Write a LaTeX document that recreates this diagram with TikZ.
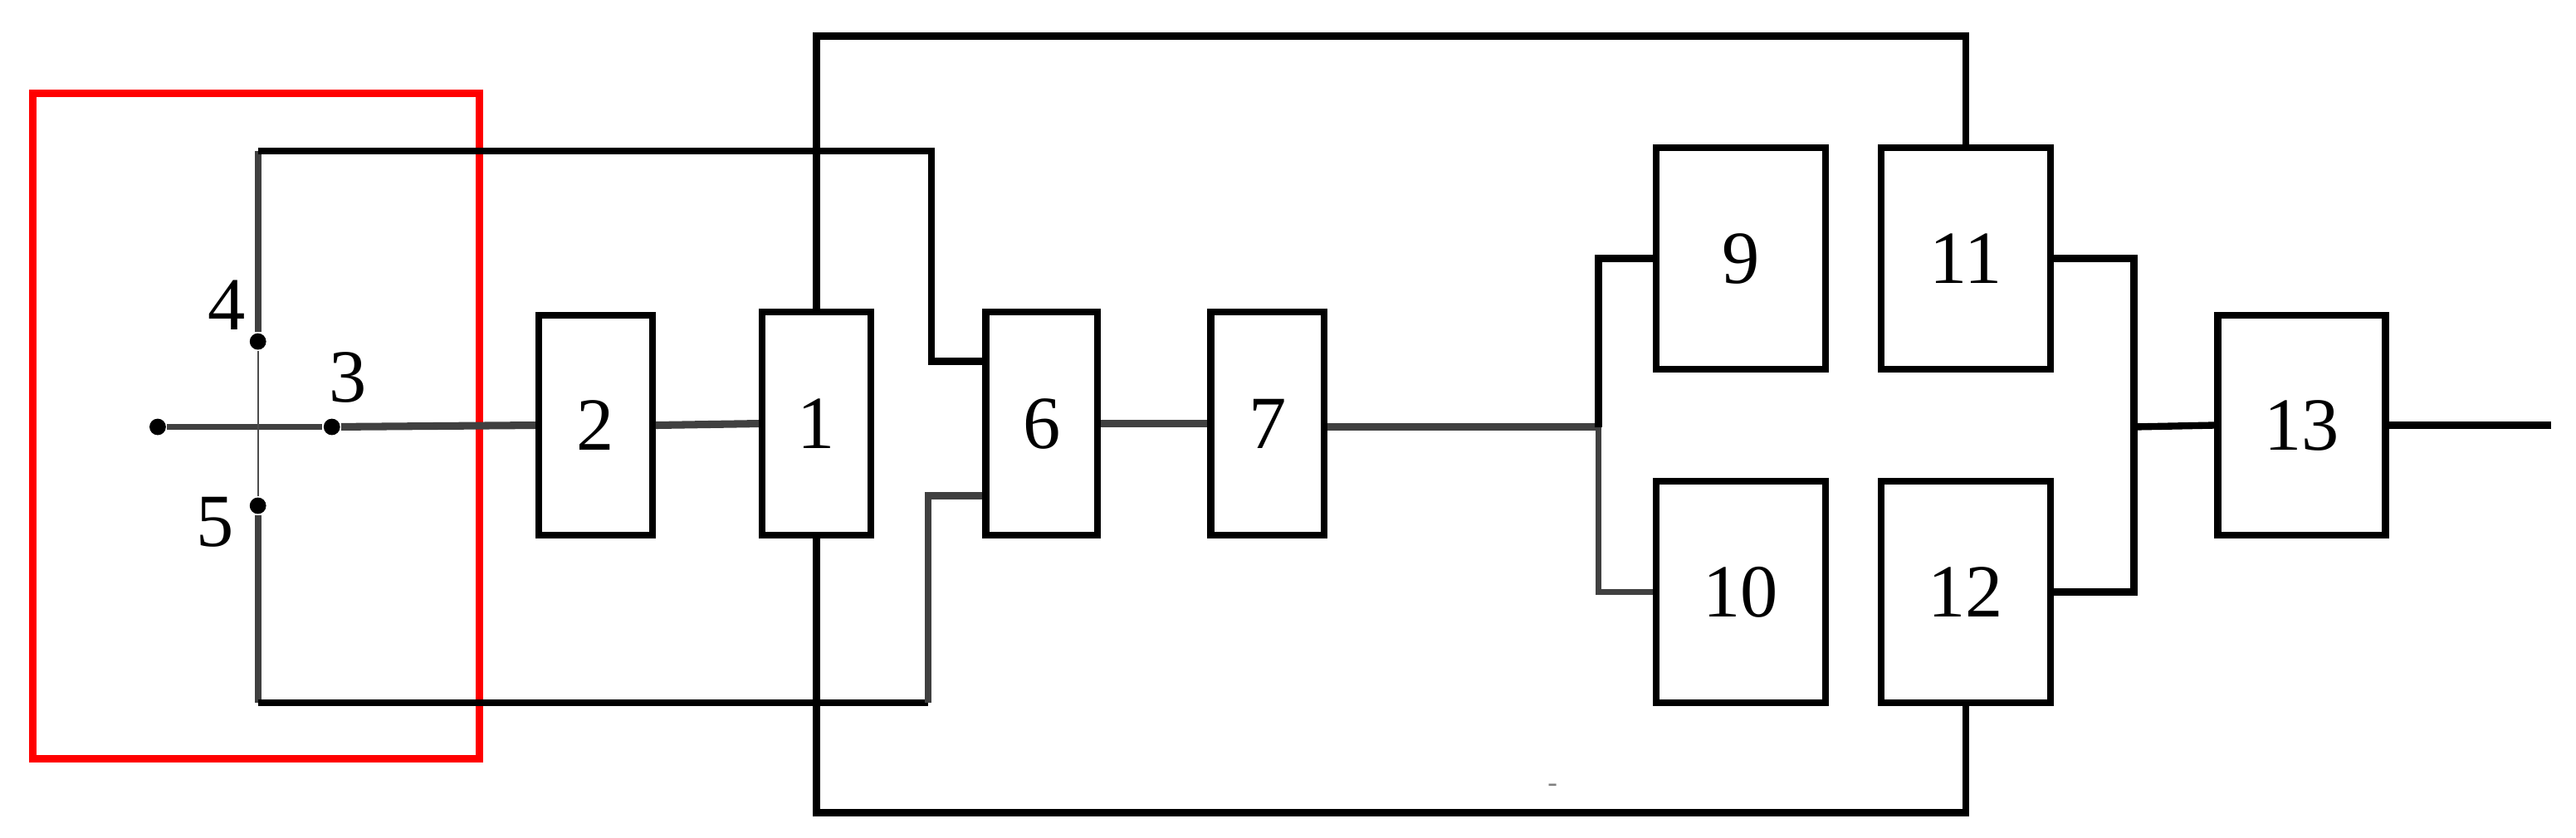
\documentclass[tikz,border=0pt]{standalone}
\usepackage{fontspec}
\setmainfont{Liberation Serif}
\begin{document}
\begin{tikzpicture}[x=0.01cm,y=-0.01cm,
  blk/.style={draw=black,line width=1.2pt,rectangle,inner sep=0pt,font=\fontsize{13}{13}\selectfont},
  wire/.style={line width=1.2pt,black},
  gwire/.style={line width=1.0pt,draw=black!75},
  dotn/.style={circle,fill=black,inner sep=0pt,minimum size=0.1cm},
  lbl/.style={font=\fontsize{13}{13}\selectfont}]
\useasboundingbox (0,0) rectangle (1568,510);
\draw[red,line width=1.3pt] (20,57) rectangle (292,462);
% blocks
\node[blk,minimum width=0.69cm,minimum height=1.34cm] (b2) at (362.5,259) {2};
\node[blk,minimum width=0.66cm,minimum height=1.36cm] (b1) at (497,258) {1};
\node[blk,minimum width=0.68cm,minimum height=1.36cm] (b6) at (634,258) {6};
\node[blk,minimum width=0.69cm,minimum height=1.36cm] (b7) at (771.5,258) {7};
\node[blk,minimum width=1.03cm,minimum height=1.35cm] (b9) at (1059.5,157.5) {9};
\node[blk,minimum width=1.03cm,minimum height=1.35cm] (b11) at (1196.5,157.5) {11};
\node[blk,minimum width=1.03cm,minimum height=1.35cm] (b10) at (1059.5,360.5) {10};
\node[blk,minimum width=1.03cm,minimum height=1.35cm] (b12) at (1196.5,360.5) {12};
\node[blk,minimum width=1.02cm,minimum height=1.34cm] (b13) at (1401,259) {13};
% switch
\node[dotn] (d0) at (96,260) {};
\node[dotn] (d3) at (202,260) {};
\node[dotn] (d4) at (157,208) {};
\node[dotn] (d5) at (157,308) {};
\node[lbl] (l4) at (138,186) {4};
\node[lbl] (l3) at (212,230) {3};
\node[lbl] (l5) at (131,318) {5};
\coordinate (t4) at (157,92);
\coordinate (t5) at (157,428);
\coordinate (tr) at (567,92);
\coordinate (br) at (565,428);
\draw[gwire] (d0) -- (d3);
\draw[gwire,line width=1.3pt] (d3) -- (b2.west);
\draw[black!70,line width=0.3pt] (d4) -- (d5);
\draw[gwire,line width=1.2pt] (d4) -- (t4);
\draw[gwire,line width=1.2pt] (d5) -- (t5);
\draw[wire] (t4) -- (tr) |- (b6.west |- 0,220);
\draw[wire] (t5) -- (br);
\draw[gwire,line width=1.2pt] (br) |- (b6.west |- 0,302);
\draw[gwire,line width=1.3pt] (b2.east) -- (b1.west);
\draw[gwire,line width=1.3pt] (b6.east) -- (b7.west);
% big loop
\draw[wire] (b1.north) -- (497,22) -| (b11.north);
\draw[wire] (b1.south) -- (497,495) -| (b12.south);
% fan out
\coordinate (fj) at (973,260);
\draw[gwire,line width=1.3pt] (b7.east |- fj) -- (fj);
\draw[wire] (fj) |- (b9.west);
\draw[gwire,line width=1.1pt] (fj) |- (b10.west);
\coordinate (fk) at (1299,260);
\draw[wire] (b11.east) -| (fk);
\draw[wire] (b12.east) -| (fk);
\draw[wire] (fk) -- (b13.west);
\coordinate (out) at (1553,259);
\draw[wire] (b13.east) -- (out);
\node[text=black!50,font=\tiny] (m) at (945,480) {-};
\end{tikzpicture}
\end{document}
